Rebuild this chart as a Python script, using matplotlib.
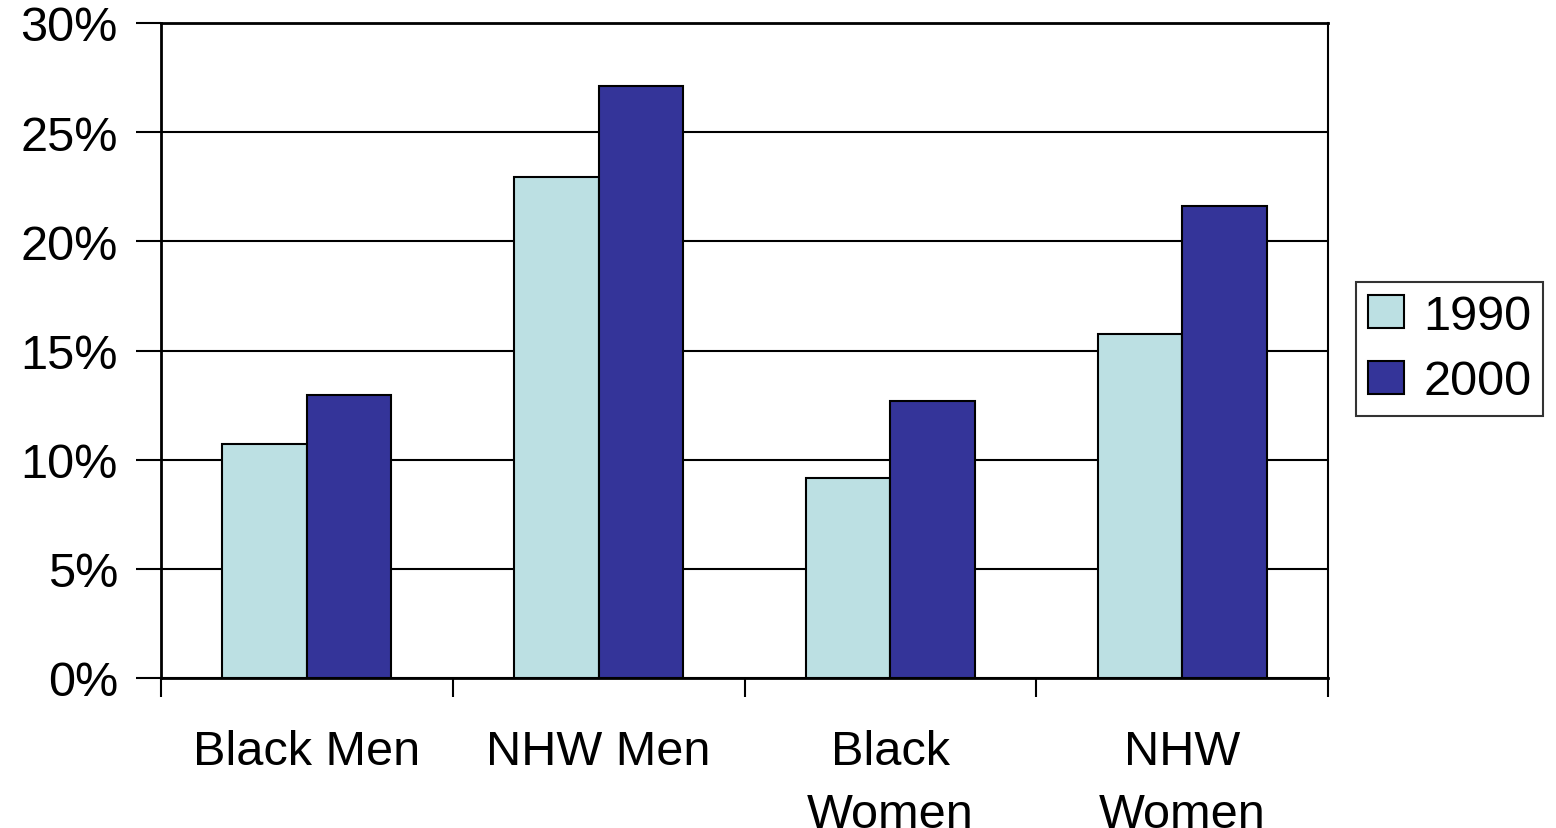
import matplotlib
matplotlib.use("Agg")
import matplotlib.pyplot as plt
import numpy as np
from matplotlib.ticker import FixedLocator, FuncFormatter

categories = ["Black Men", "NHW Men", "Black\nWomen", "NHW\nWomen"]
years = ["1990", "2000"]
values_1990 = [10.7, 22.95, 9.15, 15.75]
values_2000 = [12.95, 27.1, 12.7, 21.6]
yticks = [0, 5, 10, 15, 20, 25, 30]

colors = ["#BCE0E3", "#343499"]

plt.rcParams["font.family"] = ["Liberation Sans", "DejaVu Sans"]

fig = plt.figure(figsize=(15.56, 8.29), dpi=100)
ax = fig.add_axes([161 / 1556, 1 - 679 / 829, (1328 - 161) / 1556, (679 - 24) / 829])

x = np.arange(len(categories))
w = 0.29
ax.bar(x - w / 2, values_1990, w, color=colors[0], edgecolor="black", linewidth=1.5, label=years[0], zorder=3)
ax.bar(x + w / 2, values_2000, w, color=colors[1], edgecolor="black", linewidth=1.5, label=years[1], zorder=3)

ax.set_xlim(-0.5, len(categories) - 0.5)
ax.set_ylim(0, 30)
ax.set_yticks(yticks)
ax.yaxis.set_major_formatter(FuncFormatter(lambda v, p: f"{v:.0f}%"))
ax.yaxis.grid(True, color="black", linewidth=1.5, zorder=0)

# category boundaries get tick marks, labels sit between them
ax.xaxis.set_major_locator(FixedLocator(np.arange(-0.5, len(categories), 1.0)))
ax.xaxis.set_major_formatter(FuncFormatter(lambda v, p: ""))
ax.set_xticks(x, minor=True)
ax.set_xticklabels(categories, minor=True, fontsize=35, linespacing=1.5, va="top")
ax.tick_params(axis="x", which="minor", length=0, pad=37)
ax.tick_params(axis="x", which="major", direction="out", length=14, width=1.5)
ax.tick_params(axis="y", direction="out", length=18, width=1.5, labelsize=35, pad=13)

for side in ["left", "bottom", "right", "top"]:
    ax.spines[side].set_linewidth(2)
ax.spines["right"].set_linewidth(1.5)

leg = ax.legend(loc="center left", bbox_to_anchor=(1356 / 1556, 1 - 350 / 829), bbox_transform=fig.transFigure,
                fontsize=35, frameon=True, fancybox=False, edgecolor="black", handlelength=0.75,
                handleheight=0.65, handletextpad=0.4, borderpad=0.24, labelspacing=0.43, borderaxespad=0)
leg.get_frame().set_linewidth(1.5)

fig.savefig("out.png", dpi=100)
